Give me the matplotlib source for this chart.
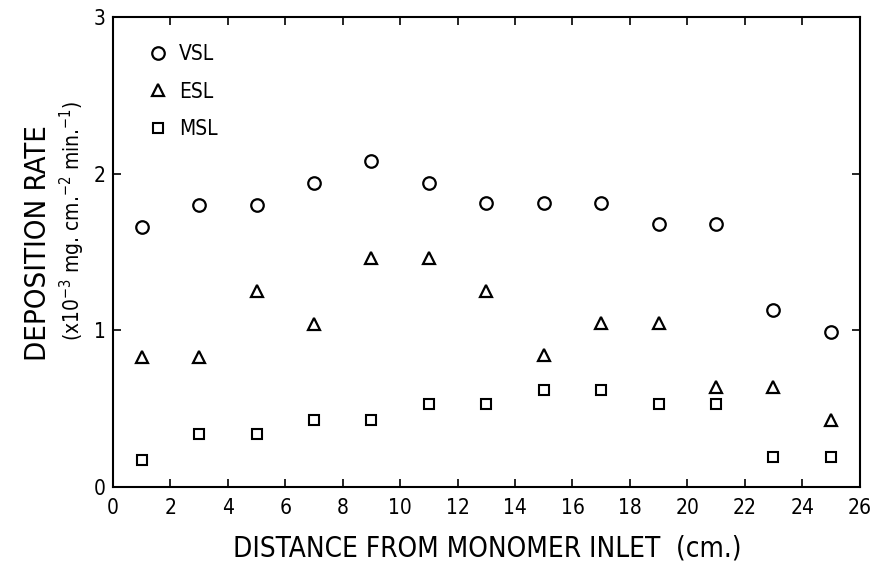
import matplotlib.pyplot as plt
import numpy as np

# Deposition rate along the reactor (x10^-3 mg cm^-2 min^-1)
distance = [1, 3, 5, 7, 9, 11, 13, 15, 17, 19, 21, 23, 25]
vsl = [1.66, 1.80, 1.80, 1.94, 2.08, 1.94, 1.81, 1.81, 1.81, 1.68, 1.68, 1.13, 0.99]
esl = [0.83, 0.83, 1.25, 1.04, 1.46, 1.46, 1.25, 0.84, 1.05, 1.05, 0.64, 0.64, 0.43]
msl = [0.17, 0.34, 0.34, 0.43, 0.43, 0.53, 0.53, 0.62, 0.62, 0.53, 0.53, 0.19, 0.19]

plt.rcParams['font.family'] = ['DejaVu Sans']
plt.rcParams['font.stretch'] = 'condensed'

fig = plt.figure(figsize=(8.89, 5.82), dpi=100)
ax = fig.add_axes([0.127, 0.163, 0.840, 0.808])

ax.plot(distance, vsl, 'o', mfc='none', mec='black', mew=1.6, ms=9, label='VSL')
ax.plot(distance, esl, '^', mfc='none', mec='black', mew=1.6, ms=8, label='ESL')
ax.plot(distance, msl, 's', mfc='none', mec='black', mew=1.5, ms=6.5, label='MSL')

ax.set_xlim(0, 26)
ax.set_ylim(0, 3)
ax.set_xticks(np.arange(0, 27, 2))
ax.set_yticks([0, 1, 2, 3])
ax.tick_params(direction='in', top=True, right=True, length=6, width=1.2,
               labelsize=15, pad=8)
ax.tick_params(axis='y', pad=5)
for s in ax.spines.values():
    s.set_linewidth(1.5)

fig.text(0.548, 0.058, 'DISTANCE FROM MONOMER INLET  (cm.)', fontsize=20,
         ha='center', va='center')

fig.text(0.043, 0.582, 'DEPOSITION RATE', rotation=90, fontsize=21,
         ha='center', va='center')
fig.text(0.082, 0.62, r'(x10$^{-3}$ mg. cm.$^{-2}$ min.$^{-1}$)', rotation=90,
         fontsize=15, ha='center', va='center')

leg = ax.legend(loc='upper left', bbox_to_anchor=(0.008, 1), frameon=False,
                fontsize=15, handletextpad=0.4, labelspacing=0.85,
                borderaxespad=0.9, handlelength=1.2)

fig.savefig('out.png', dpi=100)
